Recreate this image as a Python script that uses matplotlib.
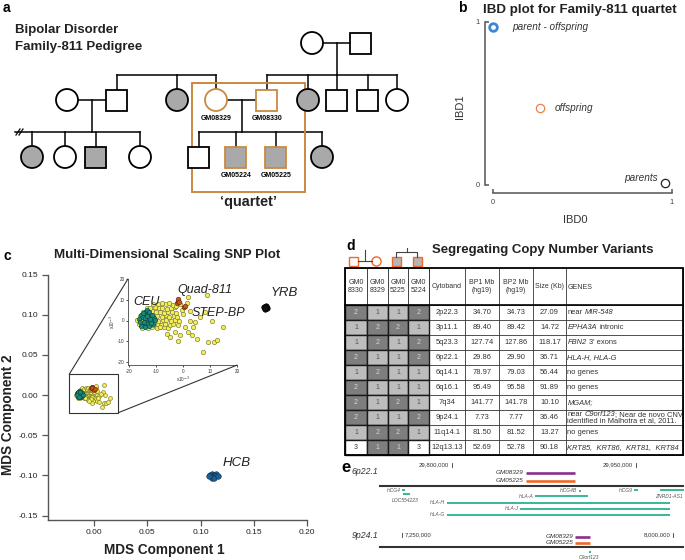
import matplotlib
matplotlib.use("Agg")
import matplotlib.pyplot as plt
from matplotlib.patches import Circle, Rectangle, ConnectionPatch

plt.rcParams['font.family'] = ['Liberation Sans', 'DejaVu Sans']
plt.rcParams['axes.unicode_minus'] = False

W, H = 685, 560
ORANGE = '#c98a3f'
AFF_GREY = '#a9a9a9'
TEAL = '#2bb08f'
PURPLE = '#8b2f8f'
CNV_ORANGE = '#ee6a2c'

# ---------------- a: pedigree ----------------
# (label, sex, affected, x, generation)
ped_people = [
    ("", "F", False, 312, 1), ("", "M", False, 361, 1),
    ("", "F", False, 67, 2), ("", "M", False, 117, 2), ("", "F", True, 177, 2),
    ("GM08329", "F", False, 216, 2), ("GM08330", "M", False, 267, 2),
    ("", "F", True, 308, 2), ("", "M", False, 337, 2), ("", "M", False, 368, 2),
    ("", "F", False, 397, 2),
    ("", "F", True, 32, 3), ("", "F", False, 65, 3), ("", "M", True, 96, 3),
    ("", "F", False, 140, 3),
    ("", "M", False, 199, 3), ("GM05224", "M", True, 236, 3),
    ("GM05225", "M", True, 276, 3), ("", "F", True, 322, 3),
]
gen_y = {1: 43, 2: 100, 3: 157}
ped_couples = [(312, 361, 1), (67, 117, 2), (216, 267, 2)]
# (drop x from the parents, children x, child generation)
ped_sibships = [(337, [267, 308, 337, 368, 397], 2), (None, [117, 177, 216], 2),
                (92, [32, 65, 96, 140], 3), (242, [199, 236, 276, 322], 3)]

# ---------------- b: IBD ----------------
ibd_names = ["parent - offspring", "offspring", "parents"]
ibd0 = [0.0, 0.26, 0.96]
ibd1 = [0.97, 0.47, 0.01]
ibd_colors = ['#3b87d6', '#e8804a', '#222222']

# ---------------- c: MDS ----------------
yrb_x = [0.1600, 0.1612, 0.1621, 0.1606, 0.1617, 0.1609]
yrb_y = [0.1090, 0.1102, 0.1085, 0.1072, 0.1094, 0.1080]
hcb_x = [0.109, 0.111, 0.113, 0.115, 0.110, 0.112, 0.114, 0.111, 0.113, 0.116, 0.108]
hcb_y = [-0.099, -0.098, -0.099, -0.098, -0.101, -0.102, -0.101, -0.1035, -0.1035,
         -0.1005, -0.1005]
# inset values are x10^-3
step_x = [-15.2, -13.1, -11.6, -9.8, -8.7, -7.1, -5.4,
          -16.4, -14.6, -12.3, -11.2, -9.4, -8.1, -6.6, -4.9, -3.6,
          -17.1, -15.4, -13.7, -11.9, -10.6, -9.1, -7.4, -6.2, -4.4, -2.9, -1.6,
          -16.1, -13.9, -12.6, -10.8, -9.6, -7.9, -6.4, -5.1, -3.3, -2.2,
          -14.8, -12.9, -11.4, -10.1, -8.4, -6.9, -5.6, -4.1, -2.6,
          -13.4, -12.1, -10.4, -8.9, -7.6, -5.9, -4.6, -3.1,
          -11.1, -9.3, -7.8, -6.3, -5.2, -3.7,
          -1.0, -0.5, 1.5, -2.5,
          2.0, 9.0, 0.0, 2.6, 4.4, -1.7, 0.7, 2.0, -1.1, 3.2, 5.0, -6.0, -3.0, -1.7,
          7.5, 9.4, 11.5, 12.7, 10.6, 14.9, 8.1, 6.3, -4.8, -8.5, 2.6, 3.8]
step_y = [-3.4, -3.8, -3.1, -3.6, -2.9, -3.3, -3.7,
          -1.8, -2.2, -1.6, -2.4, -1.9, -2.1, -1.5, -2.3, -1.7,
          0.2, -0.3, 0.4, -0.2, 0.5, -0.4, 0.1, 0.3, -0.1, 0.4, -0.3,
          2.1, 1.8, 2.4, 1.7, 2.2, 1.9, 2.5, 1.6, 2.3, 1.9,
          4.2, 3.8, 4.4, 3.9, 4.1, 3.7, 4.3, 4.0, 3.6,
          6.1, 5.8, 6.3, 5.9, 6.2, 5.7, 6.0, 6.4,
          8.1, 7.8, 8.3, 7.9, 8.2, 7.7,
          8.0, 5.0, 8.5, 7.0,
          11.3, 12.5, 3.2, 0.0, -0.8, -2.4, -3.2, -5.6, -7.2, -7.2, -8.9, -6.4, -5.6,
          -9.7, -15.3, -10.5, -10.5, -9.2, 0.0, -3.2, 4.0, 1.6, -8.0, -3.2, 4.8, -3.2]
ceu_x = [-16.2, -15.6, -15.1, -14.7, -14.3, -13.9, -13.6, -13.2, -12.8, -12.4, -12.0,
         -11.6, -11.2, -10.8, -15.4, -14.5, -13.8, -13.0, -12.2, -11.4, -14.9, -14.0,
         -13.3, -12.6, -11.9, -16.0, -13.5, -12.7, -14.2, -10.5]
ceu_y = [0.8, 2.6, -1.2, 1.9, 3.8, 0.2, -2.1, 1.4, 3.1, -0.6, 2.2, 0.4, -1.5, 1.1,
         -2.6, -0.9, 4.6, -1.8, 0.9, 2.8, 3.5, 1.2, 2.4, -2.8, -1.1, -0.5, 5.2, 4.1,
         -3.1, 0.2]
quad_x = [-2.4, -1.8, -2.0, -1.5, 0.4, 0.9]
quad_y = [8.6, 9.4, 10.3, 9.0, 6.4, 7.1]
mds_xticks = [0.00, 0.05, 0.10, 0.15, 0.20]
mds_yticks = [-0.15, -0.10, -0.05, 0.00, 0.05, 0.10, 0.15]
inset_ticks = [-20, -10, 0, 10, 20]

# ---------------- d: CNV table ----------------
cnv_samples = ["GM0\n8330", "GM0\n8329", "GM0\n5225", "GM0\n5224"]
cnv_copy = [[2, 1, 1, 2], [1, 2, 2, 1], [1, 2, 1, 2], [2, 1, 1, 2], [1, 2, 1, 1],
            [2, 1, 1, 1], [2, 1, 2, 1], [2, 1, 1, 2], [1, 2, 2, 1], [3, 1, 1, 3]]
cnv_cytoband = ["2p22.3", "3p11.1", "5q23.3", "6p22.1", "6q14.1", "6q16.1", "7q34",
                "9p24.1", "11q14.1", "12q13.13"]
cnv_bp1 = [34.70, 89.40, 127.74, 29.86, 78.97, 95.49, 141.77, 7.73, 81.50, 52.69]
cnv_bp2 = [34.73, 89.42, 127.86, 29.90, 79.03, 95.58, 141.78, 7.77, 81.52, 52.78]
cnv_size = [27.09, 14.72, 118.17, 36.71, 56.44, 91.89, 10.10, 36.46, 13.27, 90.18]
# (text, italic) pieces; a second list is a second line
cnv_genes = [
    [[("near", False), (" MIR-548", True)]],
    [[("EPHA3A", True), (" intronic", False)]],
    [[("FBN2", True), (" 3' exons", False)]],
    [[("HLA-H, HLA-G", True)]],
    [[("no genes", False)]],
    [[("no genes", False)]],
    [[("MGAM;", True)]],
    [[("near", False), (" C9orf123", True), ("; Near de novo CNV", False)],
     [("identified in Malhotra et al, 2011.", False)]],
    [[("no genes", False)]],
    [[("KRT85,  KRT86,  KRT81,  KRT84", True)]],
]

# ---------------- e: genome tracks ----------------
e6_ticks = [29_800_000, 29_950_000]
e9_ticks = [7_250_000, 8_000_000]
genes_6p = ["HCG4", "LOC554223", "HLA-A", "HCG4B", "HCG9", "ZNRD1-AS1", "HLA-H",
            "HLA-J", "HLA-G"]
genes_6p_start = [29_759_200, 29_760_000, 29_867_700, 29_903_500, 29_948_400,
                  29_969_600, 29_795_900, 29_855_400, 29_795_900]
genes_6p_end = [29_761_700, 29_765_800, 29_910_900, 29_905_200, 29_951_600,
                29_989_500, 29_977_700, 29_977_700, 29_977_700]
genes_9p = ["C9orf123"]
genes_9p_start = [7_767_500]
genes_9p_end = [7_773_000]
cnv_track_samples = ["GM08329", "GM05225"]

fig = plt.figure(figsize=(6.85, 5.6), dpi=100)
ov = fig.add_axes([0, 0, 1, 1])
ov.set_xlim(0, W)
ov.set_ylim(H, 0)
ov.axis('off')


def px_box(x0, y0, x1, y1):
    return fig.add_axes([x0 / W, 1 - y1 / H, (x1 - x0) / W, (y1 - y0) / H])


def anchored_axes(xlim, ylim, xa, xb, ya, yb):
    sx = (xb[1] - xa[1]) / (xb[0] - xa[0])
    sy = (yb[1] - ya[1]) / (yb[0] - ya[0])
    x0 = xa[1] + (xlim[0] - xa[0]) * sx
    x1 = xa[1] + (xlim[1] - xa[0]) * sx
    y_top = ya[1] + (ylim[1] - ya[0]) * sy
    y_bot = ya[1] + (ylim[0] - ya[0]) * sy
    ax = px_box(x0, y_top, x1, y_bot)
    ax.set_xlim(xlim)
    ax.set_ylim(ylim)
    return ax


# ===== panel a =====
ov.text(3, 8, 'a', fontsize=10, fontweight='bold', va='center')
ov.text(15, 30, 'Bipolar Disorder', fontsize=9.5, fontweight='bold', va='center', color='#222')
ov.text(15, 47, 'Family-811 Pedigree', fontsize=9.5, fontweight='bold', va='center', color='#222')

lw_ped = 1.1
for x1, x2, g in ped_couples:
    ov.plot([x1, x2], [gen_y[g]] * 2, color='black', lw=lw_ped, zorder=1)
for drop_x, kids, g in ped_sibships:
    sib_y = gen_y[g] - 25
    if drop_x is not None:
        ov.plot([drop_x, drop_x], [gen_y[g - 1], sib_y], color='black', lw=lw_ped, zorder=1)
    ov.plot([min(kids), max(kids)], [sib_y, sib_y], color='black', lw=lw_ped, zorder=1)
    for k in kids:
        ov.plot([k, k], [sib_y, gen_y[g] - 10], color='black', lw=lw_ped, zorder=1)
ov.plot([15, 32], [132, 132], color='black', lw=lw_ped)
ov.plot([16, 20], [135, 129], color='black', lw=0.9)
ov.plot([19, 23], [135, 129], color='black', lw=0.9)

for label, sex, affected, x, g in ped_people:
    y = gen_y[g]
    ec = ORANGE if label else 'black'
    fc = AFF_GREY if affected else 'white'
    if sex == 'F':
        ov.add_patch(Circle((x, y), 11, fc=fc, ec=ec, lw=1.3, zorder=3))
    else:
        ov.add_patch(Rectangle((x - 10.5, y - 10.5), 21, 21, fc=fc, ec=ec, lw=1.3, zorder=3))
    if label:
        ov.text(x, y + 18.5, label, fontsize=5, fontweight='bold', ha='center', va='center')

ov.add_patch(Rectangle((192, 83), 113, 109, fill=False, ec=ORANGE, lw=1.4, zorder=2))
ov.text(248, 202, '\u2018quartet\u2019', fontsize=10.4, fontweight='bold', ha='center', va='center',
        color='#222')

# ===== panel b =====
ov.text(458, 8, 'b', fontsize=10, fontweight='bold', va='center')
ov.text(483, 10, 'IBD plot for Family-811 quartet', fontsize=9.6, fontweight='bold', va='center',
        color='#222')
axb = anchored_axes((-0.06, 1.03), (-0.07, 1.03), (0, 493), (1, 672), (0, 185), (1, 22))
axb.patch.set_alpha(0)
ms = [5.5, 6.0, 6.0]
mew = [2.0, 0.9, 0.9]
for i in range(len(ibd_names)):
    axb.plot(ibd0[i], ibd1[i], 'o', mfc='none', mec=ibd_colors[i], ms=ms[i], mew=mew[i], clip_on=False)
axb.annotate(ibd_names[0], (ibd0[0], ibd1[0]), xytext=(14, 0), textcoords='offset points',
             fontsize=7.2, style='italic', color='#333', va='center')
axb.annotate(ibd_names[1], (ibd0[1], ibd1[1]), xytext=(11, 0), textcoords='offset points',
             fontsize=7.2, style='italic', color='#333', va='center')
axb.annotate(ibd_names[2], (ibd0[2], ibd1[2]), xytext=(-5, 4), textcoords='offset points',
             fontsize=7.2, style='italic', color='#333', va='center', ha='right')
for s in ['top', 'right']:
    axb.spines[s].set_visible(False)
axb.spines['left'].set_position(('data', -0.045))
axb.spines['bottom'].set_position(('data', -0.05))
axb.spines['left'].set_bounds(0, 1)
axb.spines['bottom'].set_bounds(0, 1)
for s in ['left', 'bottom']:
    axb.spines[s].set_color('#555')
    axb.spines[s].set_linewidth(1.1)
axb.set_xticks([0, 1])
axb.set_yticks([0, 1])
axb.tick_params(direction='in', length=3, width=1.1, color='#555', labelsize=5.5,
                labelcolor='#444', pad=4)
ov.text(575, 220, 'IBD0', fontsize=8, ha='center', va='center', color='#333')
ov.text(460, 107, 'IBD1', fontsize=8, ha='center', va='center', rotation=90, color='#333')

# ===== panel c =====
ov.text(4, 256, 'c', fontsize=10, fontweight='bold', va='center')
ov.text(167, 255, 'Multi-Dimensional Scaling SNP Plot', fontsize=9.6, fontweight='bold',
        ha='center', va='center', color='#222')
axc = anchored_axes((-0.0434, 0.21), (-0.155, 0.16), (0, 94), (0.2, 307), (0, 395), (0.15, 274.5))
axc.patch.set_alpha(0)
yel_kw = dict(c='#f2ef5a', edgecolors='#7d7a2a', linewidths=0.45)
ceu_kw = dict(c='#1b8a7c', edgecolors='#0c4a40', linewidths=0.45)
quad_kw = dict(c='#c8561a', edgecolors='#6a2a08', linewidths=0.45)
sx = [v * 1e-3 for v in step_x]
sy = [v * 1e-3 for v in step_y]
axc.scatter(sx, sy, s=8, **yel_kw, zorder=3)
axc.scatter([v * 1e-3 for v in ceu_x], [v * 1e-3 for v in ceu_y], s=8, **ceu_kw, zorder=4)
axc.scatter([v * 1e-3 for v in quad_x], [v * 1e-3 for v in quad_y], s=9, **quad_kw, zorder=5)
axc.scatter(yrb_x, yrb_y, s=16, c='#111111', edgecolors='black', linewidths=0.4, zorder=3)
axc.scatter(hcb_x, hcb_y, s=16, c='#1d5f91', edgecolors='#0d3050', linewidths=0.4, zorder=3)
axc.add_patch(Rectangle((-0.0233, -0.022), 0.0462, 0.0477, fill=False, ec='#333', lw=0.8))
axc.text(0.166, 0.1265, 'YRB', fontsize=9.5, style='italic', va='center', color='#222')
axc.text(0.1208, -0.0844, 'HCB', fontsize=9.5, style='italic', va='center', color='#222')
for s in ['top', 'right']:
    axc.spines[s].set_visible(False)
axc.spines['left'].set_bounds(-0.155, 0.15)
axc.spines['bottom'].set_bounds(-0.0434, 0.20)
for s in ['left', 'bottom']:
    axc.spines[s].set_color('#555')
    axc.spines[s].set_linewidth(1.0)
axc.set_xticks(mds_xticks)
axc.set_yticks(mds_yticks)
axc.xaxis.set_major_formatter(plt.FormatStrFormatter('%.2f'))
axc.yaxis.set_major_formatter(plt.FormatStrFormatter('%.2f'))
axc.tick_params(direction='out', length=4, width=0.9, color='#555', labelsize=6,
                labelcolor='#222', pad=3)
ov.text(164, 550, 'MDS Component 1', fontsize=9.8, fontweight='bold', ha='center', va='center',
        color='#222')
ov.text(8, 415, 'MDS Component 2', fontsize=9.8, fontweight='bold', ha='center', va='center',
        rotation=90, color='#222')

axi = anchored_axes((-20.4, 20.2), (-21.5, 20.5), (-20, 129), (20, 237), (-20, 362), (20, 279))
axi.patch.set_alpha(0)
axi.scatter(step_x, step_y, s=10, **yel_kw, zorder=3)
axi.scatter(ceu_x, ceu_y, s=10, **ceu_kw, zorder=4)
axi.scatter(quad_x, quad_y, s=11, **quad_kw, zorder=5)
for s in ['top', 'right']:
    axi.spines[s].set_visible(False)
axi.spines['left'].set_bounds(-21.5, 20)
axi.spines['bottom'].set_bounds(-20.4, 20)
for s in ['left', 'bottom']:
    axi.spines[s].set_color('#444')
    axi.spines[s].set_linewidth(0.6)
axi.set_xticks(inset_ticks)
axi.set_yticks(inset_ticks)
axi.tick_params(direction='out', length=1.5, width=0.5, labelsize=3.3, pad=1, labelcolor='#333')
axi.set_xlabel('x10$^{-3}$', fontsize=3.3, labelpad=0.5, color='#333')
axi.set_ylabel('x10$^{-3}$', fontsize=3.3, labelpad=0.5, color='#333')
axi.text(-18.5, 8.7, 'CEU', fontsize=9, style='italic', va='center', color='#222', zorder=6)
axi.text(-1.9, 14.5, 'Quad-811', fontsize=9, style='italic', va='center', color='#222', zorder=6)
axi.text(3.3, 3.4, 'STEP-BP', fontsize=9, style='italic', va='center', color='#222', zorder=6)
for xa, xb in [((-0.0233, 0.0257), (-20.4, 20)), ((0.0229, -0.022), (20, -21.5))]:
    fig.add_artist(ConnectionPatch(xyA=xa, coordsA=axc.transData, xyB=xb, coordsB=axi.transData,
                                   color='#333', lw=0.8))

# ===== panel d =====
ov.text(346, 246, 'd', fontsize=10, fontweight='bold', va='center')
ov.text(432, 250, 'Segregating Copy Number Variants', fontsize=9.5, fontweight='bold', va='center',
        color='#222')
# little pedigree icons
ov.plot([358, 372], [261, 261], color='#444', lw=0.8)
ov.plot([365, 365], [261, 250], color='#444', lw=0.8)
ov.add_patch(Rectangle((349, 257), 9, 9, fc='white', ec=CNV_ORANGE, lw=1.0))
ov.add_patch(Circle((376.5, 261.5), 4.6, fc='white', ec=CNV_ORANGE, lw=1.0))
ov.plot([396.5, 396.5, 417.5, 417.5], [257, 252, 252, 257], color='#444', lw=0.8)
ov.plot([407, 407], [252, 248], color='#444', lw=0.8)
for xs in [392, 413]:
    ov.add_patch(Rectangle((xs, 257), 9, 9, fc='#b5b5b5', ec=CNV_ORANGE, lw=1.0))

col_edges = [345, 367, 388, 408, 429, 465, 499, 533, 566, 683]
t_top, h_bot, row_h = 268, 305, 15
n_rows = len(cnv_cytoband)
t_bot = h_bot + n_rows * row_h
headers = cnv_samples + ["Cytoband", "BP1 Mb\n(hg19)", "BP2 Mb\n(hg19)", "Size (Kb)", "GENES"]
txt = dict(fontsize=5.4, color='#333', va='center')
for j, hd in enumerate(headers):
    xc = (col_edges[j] + col_edges[j + 1]) / 2
    if hd == "GENES":
        ov.text(col_edges[j] + 1.5, (t_top + h_bot) / 2 + 1, hd, ha='left', fontsize=5, color='#333',
                va='center')
    else:
        ov.text(xc, (t_top + h_bot) / 2, hd, ha='center', fontsize=5, color='#333', va='center',
                linespacing=1.15)
for j in range(4):
    ov.add_patch(Rectangle((col_edges[j], t_top), col_edges[j + 1] - col_edges[j], h_bot - t_top,
                           fc='white', ec='#333', lw=0.6, zorder=1))

renderer = fig.canvas.get_renderer()
space_px = 2.1
for i in range(n_rows):
    y0 = h_bot + i * row_h
    yc = y0 + row_h / 2
    row = cnv_copy[i]
    for j in range(4):
        v = row[j]
        if v == 3:
            fc, tc = 'white', '#333'
        elif v == 2 or (3 in row and v == 1):
            fc, tc = '#7e7e7e', '#d6d6d6'
        else:
            fc, tc = '#bdbdbd', '#555'
        ov.add_patch(Rectangle((col_edges[j], y0), col_edges[j + 1] - col_edges[j], row_h,
                               fc=fc, ec='#1a1a1a', lw=1.0, zorder=2))
        ov.text((col_edges[j] + col_edges[j + 1]) / 2, yc, str(v), ha='center', fontsize=5,
                color=tc, va='center', zorder=3)
    vals = [cnv_cytoband[i], f"{cnv_bp1[i]:.2f}", f"{cnv_bp2[i]:.2f}", f"{cnv_size[i]:.2f}"]
    for j, s in enumerate(vals):
        ov.text((col_edges[4 + j] + col_edges[5 + j]) / 2, yc, s, ha='center', **txt)
    lines = cnv_genes[i]
    for li, segs in enumerate(lines):
        yy = yc if len(lines) == 1 else yc + (li - 0.5) * 6.5
        x = col_edges[8] + 1.5
        for s, it in segs:
            if s.startswith(' '):
                x += space_px
                s = s.lstrip()
            t = ov.text(x, yy, s, ha='left', style='italic' if it else 'normal', **txt)
            x = t.get_window_extent(renderer).x1
for k in range(n_rows + 1):
    yb = h_bot + k * row_h
    ov.plot([col_edges[4], col_edges[-1]], [yb, yb], color='#333', lw=0.6, zorder=1)
for xb in col_edges[4:]:
    ov.plot([xb, xb], [t_top, t_bot], color='#333', lw=0.6, zorder=1)
ov.plot([col_edges[0], col_edges[-1]], [h_bot, h_bot], color='black', lw=1.2, zorder=4)
ov.add_patch(Rectangle((col_edges[0], t_top), col_edges[-1] - col_edges[0], t_bot - t_top,
                       fill=False, ec='black', lw=1.3, zorder=5))

# ===== panel e =====
ov.text(341, 468, 'e', fontsize=12, fontweight='bold', va='center')
ov.text(352, 472, '6p22.1', fontsize=6.3, style='italic', va='center', color='#333')
ov.text(352, 535, '9p24.1', fontsize=6.3, style='italic', va='center', color='#333')
ov.plot([380, 683], [486, 486], color='#333', lw=1.5)
ov.plot([380, 683], [547, 547], color='#333', lw=1.5)


def track_axes(y0, y1, ref_px, ref_bp, bp_per_px):
    ax = px_box(340, y0, 685, y1)
    ax.set_xlim(ref_bp + (340 - ref_px) * bp_per_px, ref_bp + (685 - ref_px) * bp_per_px)
    ax.set_ylim(y1, y0)
    ax.axis('off')
    return ax


def draw_track(ax, ticks, tick_sides, tick_y, cnv_row, cnv_ys, names, starts, ends, rows, modes):
    for pos, side in zip(ticks, tick_sides):
        ax.plot([pos, pos], [tick_y - 2, tick_y + 2], color='#333', lw=0.6)
        ax.annotate(f"{pos:,}", (pos, tick_y), xytext=(-2 if side == 'left' else 2, 0),
                    textcoords='offset points', ha='right' if side == 'left' else 'left',
                    va='center', fontsize=4.3, color='#333')
    b1, b2 = cnv_bp1[cnv_row] * 1e6, cnv_bp2[cnv_row] * 1e6
    for lab, col, yy in zip(cnv_track_samples, [PURPLE, CNV_ORANGE], cnv_ys):
        ax.plot([b1, b2], [yy, yy], color=col, lw=1.9, solid_capstyle='butt')
        ax.annotate(lab, (b1, yy), xytext=(-1.5, 0), textcoords='offset points', ha='right',
                    va='center', fontsize=4.6, style='italic', color='#333')
    for nm, s, e, yy, mode in zip(names, starts, ends, rows, modes):
        ax.plot([s, e], [yy, yy], color=TEAL, lw=1.3, solid_capstyle='butt')
        if mode == 'left':
            ax.annotate(nm, (s, yy), xytext=(-1.2, 0), textcoords='offset points', ha='right',
                        va='center', fontsize=3.6, style='italic', color='#555')
        elif mode == 'below_right':
            ax.annotate(nm, (e, yy), xytext=(-1.5, -4.5), textcoords='offset points',
                        ha='right', va='center', fontsize=3.6, style='italic', color='#555')
        else:
            ax.annotate(nm, ((s + e) / 2, yy), xytext=(-1, -4.5), textcoords='offset points',
                        ha='center', va='center', fontsize=3.6, style='italic', color='#555')


ax6 = track_axes(455, 525, 452, 29_800_000, 150_000 / 184)
draw_track(ax6, e6_ticks, ['left', 'left'], 465, cnv_cytoband.index("6p22.1"), [473, 481],
           genes_6p, genes_6p_start, genes_6p_end,
           [490, 494, 496, 491, 490, 490, 503, 509, 515],
           ['left', 'below', 'left', 'left', 'left', 'below_right', 'left', 'left', 'left'])
ax9 = track_axes(525, 560, 402, 7_250_000, 750_000 / 271)
draw_track(ax9, e9_ticks, ['right', 'left'], 535, cnv_cytoband.index("9p24.1"), [537, 542.5],
           genes_9p, genes_9p_start, genes_9p_end, [551.5], ['below'])

fig.savefig('out.png', dpi=100)
